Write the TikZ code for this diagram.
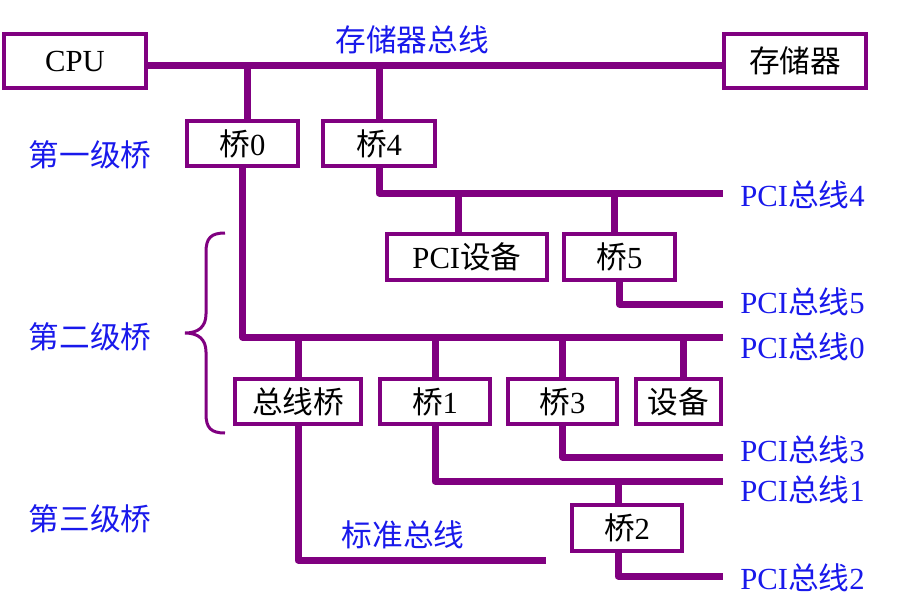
\documentclass[tikz,border=0pt]{standalone}
\usepackage{fontspec}
\setmainfont{Liberation Serif}
\newfontfamily\zh{Noto Sans CJK SC}
\definecolor{buspurple}{RGB}{128,0,128}
\definecolor{labelblue}{RGB}{25,25,235}

\begin{document}
\begin{tikzpicture}[x=0.75pt, y=-0.75pt,
    bridge/.style ={draw=buspurple, line width=3pt, fill=white, inner sep=0pt,
                    minimum height=34pt, font=\fontsize{23}{26}\selectfont},
    bus/.style ={draw=buspurple, line width=5.25pt, line join=round},
    buslabel/.style ={text=labelblue, inner sep=0pt, font=\fontsize{23}{26}\selectfont}]
   \useasboundingbox (0,0) rectangle (902,603);

   \node[bridge, minimum width=106.5pt, minimum height=40.5pt] (cpu) at (75,61) {CPU};
   \node[bridge, minimum width=106.5pt, minimum height=40.5pt] (mem) at (795,61) {\zh 存储器};
   \node[bridge, minimum width=83.25pt] (b0) at (242.5,143.5) {{\zh 桥}0};
   \node[bridge, minimum width=84pt]    (b4) at (379,143.5) {{\zh 桥}4};
   \node[bridge, minimum width=120pt]   (dev) at (467,257) {PCI{\zh 设备}};
   \node[bridge, minimum width=83.25pt] (b5) at (619.5,257) {{\zh 桥}5};
   \node[bridge, minimum width=94.5pt]  (bb) at (298,401.5) {\zh 总线桥};
   \node[bridge, minimum width=82.5pt]  (b1) at (435,401.5) {{\zh 桥}1};
   \node[bridge, minimum width=81.75pt] (b3) at (562.5,401.5) {{\zh 桥}3};
   \node[bridge, minimum width=63.75pt] (io) at (678.5,401.5) {\zh 设备};
   \node[bridge, minimum width=82.5pt]  (b2) at (627,528) {{\zh 桥}2};

   \coordinate (mb) at (0,65);
   \coordinate (p4) at (723,193);
   \coordinate (p5) at (723,304);
   \coordinate (p0) at (723,337);
   \coordinate (p3) at (723,457);
   \coordinate (p1) at (723,481);
   \coordinate (p2) at (723,576);
   \coordinate (sb) at (546,560);

   % memory bus and first level
   \draw[bus] (cpu.east |- mb) -- (mem.west |- mb);
   \draw[bus] ([xshift=3.4pt]b0.north) -- ([xshift=3.4pt]b0.north |- mb);
   \draw[bus] (b4.north) -- (b4.north |- mb);
   \draw[bus] (b4.south) |- (p4);
   \draw[bus] (b0.south) |- (p0);

   % PCI bus 4
   \draw[bus] ([xshift=-6.75pt]dev.north) -- ([xshift=-6.75pt]dev.north |- p4);
   \draw[bus] ([xshift=-4pt]b5.north) -- ([xshift=-4pt]b5.north |- p4);
   \draw[bus] (b5.south) |- (p5);

   % PCI bus 0
   \draw[bus] (bb.north) -- (bb.north |- p0);
   \draw[bus] (b1.north) -- (b1.north |- p0);
   \draw[bus] (b3.north) -- (b3.north |- p0);
   \draw[bus] ([xshift=3.4pt]io.north) -- ([xshift=3.4pt]io.north |- p0);
   \draw[bus] (b3.south) |- (p3);
   \draw[bus] (b1.south) |- (p1);
   \draw[bus] (bb.south) |- (sb);

   % PCI bus 1
   \draw[bus] ([xshift=-6.75pt]b2.north) -- ([xshift=-6.75pt]b2.north |- p1);
   \draw[bus] ([xshift=-6.75pt]b2.south) |- (p2);

   \draw[buspurple, line width=2.25pt] (225,233) .. controls (211,233) and (206,238) .. (206,252)
       -- (206,314) .. controls (206,327) and (198,333) .. (185,333)
       .. controls (198,333) and (206,339) .. (206,352)
       -- (206,414) .. controls (206,428) and (211,433) .. (225,433);

   \node[buslabel] (lmb) at (412,40) {\zh 存储器总线};
   \node[buslabel] (lsb) at (403,535) {\zh 标准总线};
   \node[buslabel] (lv1) at (90,155) {\zh 第一级桥};
   \node[buslabel] (lv2) at (90,337) {\zh 第二级桥};
   \node[buslabel] (lv3) at (90,519) {\zh 第三级桥};
   \node[buslabel, anchor=west] (l4) at (740,195) {PCI{\zh 总线}4};
   \node[buslabel, anchor=west] (l5) at (740,302) {PCI{\zh 总线}5};
   \node[buslabel, anchor=west] (l0) at (740,347) {PCI{\zh 总线}0};
   \node[buslabel, anchor=west] (l3) at (740,450) {PCI{\zh 总线}3};
   \node[buslabel, anchor=west] (l1) at (740,490) {PCI{\zh 总线}1};
   \node[buslabel, anchor=west] (l2) at (740,578) {PCI{\zh 总线}2};
 \end{tikzpicture}
\end{document}
